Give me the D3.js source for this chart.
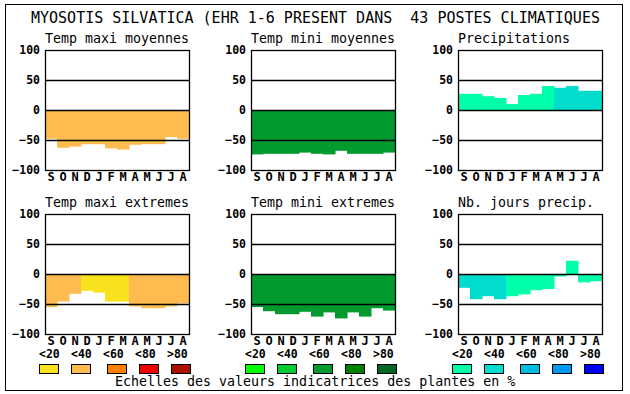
<!DOCTYPE html>
<html>
<head>
<meta charset="utf-8">
<script src="https://cdn.jsdelivr.net/npm/d3@7"></script>
<style>
  body { margin: 0; background: #fff; }
  svg { display: block; }
  text { font-family: "DejaVu Sans Mono", "Liberation Mono", monospace; white-space: pre; }
</style>
</head>
<body>
<div class="chart"></div>
<script>
// DATA
const MONTHS = ["S", "O", "N", "D", "J", "F", "M", "A", "M2", "J2", "J3", "A2"];
const MONTH_LABELS = ["S", "O", "N", "D", "J", "F", "M", "A", "M", "J", "J", "A"];
const Y_TICKS = [-100, -50, 0, 50, 100];
const GRID_LINES = [50, 0, -50];
const SCALE_LABELS = ["<20", "<40", "<60", "<80", ">80"];

const TITLE = "MYOSOTIS SILVATICA (EHR 1-6 PRESENT DANS  43 POSTES CLIMATIQUES";
const FOOTER = "Echelles des valeurs indicatrices des plantes en %";

// colour scales (one per column)
const MAXI_COLORS = ["#f8e21c", "#ffbb50", "#ff7f00", "#ee0000", "#aa1100"];
const MINI_COLORS = ["#00ff00", "#00cc33", "#009a2e", "#007f00", "#006622"];
const PRECIP_COLORS = ["#00ffaa", "#00ddcc", "#00bbdd", "#0099ee", "#0000ff"];

// series values
const MAXI_MOY = [-48, -63, -61, -57, -57, -64, -66, -58, -57, -57, -45, -48];
const MINI_MOY = [-74, -73, -73, -73, -71, -73, -74, -68, -73, -73, -73, -71];
const PRECIP = [27, 27, 23, 20, 10, 25, 27, 40, 37, 40, 32, 32];
const MAXI_EXT = [-55, -46, -33, -28, -31, -46, -46, -54, -57, -57, -54, -49];
const MINI_EXT = [-55, -62, -67, -67, -63, -71, -64, -74, -64, -71, -57, -61];
const NB_JOURS = [-23, -42, -37, -42, -37, -34, -27, -25, -4, 22, -14, -12];

// colour class per month (index into colour scale)
const MAXI_MOY_CLASS = [1, 1, 1, 1, 1, 1, 1, 1, 1, 1, 1, 1];
const MINI_MOY_CLASS = [2, 2, 2, 2, 2, 2, 2, 2, 2, 2, 2, 2];
const PRECIP_CLASS = [0, 0, 0, 0, 0, 0, 0, 0, 1, 1, 1, 1];
const MAXI_EXT_CLASS = [1, 1, 1, 0, 0, 0, 0, 1, 1, 1, 1, 1];
const MINI_EXT_CLASS = [2, 2, 2, 2, 2, 2, 2, 2, 2, 2, 2, 2];
const NB_JOURS_CLASS = [1, 1, 1, 1, 0, 0, 0, 0, 0, 0, 0, 0];

// GLOBAL CONSTANTS
const FRAME_WIDTH = 630;
const FRAME_HEIGHT = 394;
const PLOT_W = 144;
const PLOT_H = 120;
const COL_X = [45, 251, 458];
const ROW_Y = [50, 214];

const FRAME = d3.select(".chart")
                .append("svg")
                  .attr("width", FRAME_WIDTH)
                  .attr("height", FRAME_HEIGHT);

// outer border
FRAME.append("rect")
     .attr("x", 5.5).attr("y", 4.5)
     .attr("width", 617).attr("height", 386)
     .attr("fill", "none").attr("stroke", "#000").attr("stroke-width", 1);

FRAME.append("text")
     .attr("x", 31).attr("y", 23)
     .attr("font-size", "15px")
     .text(TITLE);

const X_SCALE = d3.scaleBand().domain(MONTHS).range([0, PLOT_W]).padding(0);
const Y_SCALE = d3.scaleLinear().domain([-100, 100]).range([PLOT_H, 0]);

const PANELS = [
  {title: "Temp maxi moyennes", values: MAXI_MOY, cls: MAXI_MOY_CLASS, colors: MAXI_COLORS, col: 0, row: 0},
  {title: "Temp mini moyennes", values: MINI_MOY, cls: MINI_MOY_CLASS, colors: MINI_COLORS, col: 1, row: 0},
  {title: "Precipitations", values: PRECIP, cls: PRECIP_CLASS, colors: PRECIP_COLORS, col: 2, row: 0},
  {title: "Temp maxi extremes", values: MAXI_EXT, cls: MAXI_EXT_CLASS, colors: MAXI_COLORS, col: 0, row: 1},
  {title: "Temp mini extremes", values: MINI_EXT, cls: MINI_EXT_CLASS, colors: MINI_COLORS, col: 1, row: 1},
  {title: "Nb. jours precip.", values: NB_JOURS, cls: NB_JOURS_CLASS, colors: PRECIP_COLORS, col: 2, row: 1}
];

PANELS.forEach((p) => {
  const g = FRAME.append("g")
                 .attr("transform", "translate(" + COL_X[p.col] + "," + ROW_Y[p.row] + ")");

  g.append("text")
   .attr("x", 0).attr("y", -7)
   .attr("font-size", "13.3px")
   .text(p.title);

  const data = MONTHS.map((m, i) => ({month: m, value: p.values[i], c: p.cls[i]}));

  // bars
  g.selectAll(".bar")
   .data(data)
   .enter()
   .append("rect")
     .attr("x", (d) => X_SCALE(d.month))
     .attr("y", (d) => Y_SCALE(Math.max(0, d.value)))
     .attr("width", X_SCALE.bandwidth() + 0.5)
     .attr("height", (d) => Math.abs(Y_SCALE(d.value) - Y_SCALE(0)))
     .attr("fill", (d) => p.colors[d.c]);

  // grid lines
  g.selectAll(".grid")
   .data(GRID_LINES)
   .enter()
   .append("line")
     .attr("x1", 0).attr("x2", PLOT_W)
     .attr("y1", (d) => Math.round(Y_SCALE(d)) + 0.5)
     .attr("y2", (d) => Math.round(Y_SCALE(d)) + 0.5)
     .attr("stroke", "#000").attr("stroke-width", 1.3);

  g.append("rect")
   .attr("x", 0.5).attr("y", 0.5)
   .attr("width", PLOT_W).attr("height", PLOT_H)
   .attr("fill", "none").attr("stroke", "#000").attr("stroke-width", 1.3);

  // y axis
  const yAxis = g.append("g")
                 .attr("transform", "translate(-5,0)")
                 .call(d3.axisLeft(Y_SCALE).tickValues(Y_TICKS).tickSize(0).tickPadding(0));
  yAxis.select(".domain").remove();
  yAxis.selectAll("text")
       .attr("font-family", "'DejaVu Sans Mono', monospace")
       .attr("font-weight", "bold")
       .attr("font-size", "11.5px")
       .attr("fill", "#000");

  // month labels
  const xAxis = g.append("g")
                 .attr("transform", "translate(0," + (PLOT_H + 2) + ")")
                 .call(d3.axisBottom(X_SCALE).tickSize(0).tickPadding(0)
                         .tickFormat((d, i) => MONTH_LABELS[i]));
  xAxis.select(".domain").remove();
  xAxis.selectAll("text")
       .attr("font-family", "'DejaVu Sans Mono', monospace")
       .attr("font-weight", "bold")
       .attr("font-size", "12px")
       .attr("fill", "#000");
});

// LEGEND
const LEGEND_COLORS = [MAXI_COLORS, MINI_COLORS, PRECIP_COLORS];
const SWATCH_OFFSETS = [0, 32, 68, 100, 132];

LEGEND_COLORS.forEach((colors, c) => {
  const x0 = COL_X[c] - 6;
  FRAME.selectAll(".lab" + c)
       .data(SCALE_LABELS)
       .enter()
       .append("text")
         .attr("x", (d, i) => x0 + i * 32)
         .attr("y", 358)
         .attr("font-weight", "bold")
         .attr("font-size", "11.5px")
         .text((d) => d);

  FRAME.selectAll(".sw" + c)
       .data(colors)
       .enter()
       .append("rect")
         .attr("x", (d, i) => x0 + SWATCH_OFFSETS[i] + 0.5)
         .attr("y", 364.5)
         .attr("width", 19)
         .attr("height", 9)
         .attr("fill", (d) => d)
         .attr("stroke", "#000")
         .attr("stroke-width", 1);
});

FRAME.append("text")
     .attr("x", 115).attr("y", 386)
     .attr("font-size", "13.3px")
     .text(FOOTER);
</script>
</body>
</html>
